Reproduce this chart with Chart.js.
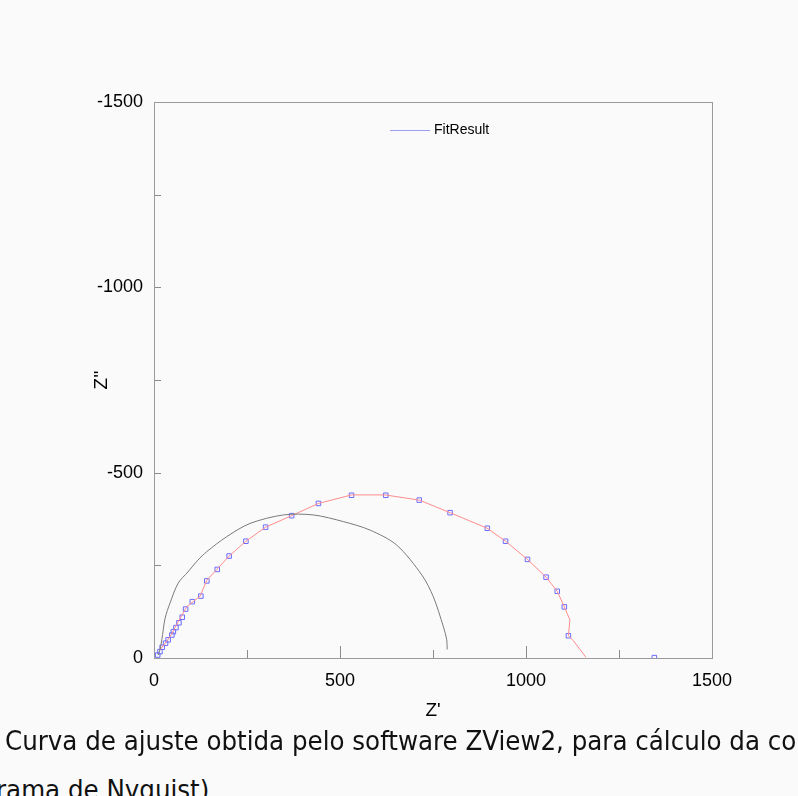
<!DOCTYPE html>
<html>
<head>
<meta charset="utf-8">
<script src="https://cdn.jsdelivr.net/npm/chart.js@4.4.1/dist/chart.umd.min.js"></script>
<style>
	html, body { margin: 0; padding: 0; background: #fafafa; overflow: hidden; }
	body { width: 798px; height: 796px; position: relative; }
	#wrap { position: absolute; left: 0; top: 0; width: 798px; height: 730px; }
	.caption {
		position: absolute;
		left: 5px;
		white-space: nowrap;
		font-family: "DejaVu Sans Condensed", "DejaVu Sans", sans-serif;
		font-size: 27.3px;
		color: #111;
	}
</style>
</head>
<body>
<div id="wrap"><canvas id="chart"></canvas></div>
<div class="caption" style="top:725px;">Curva de ajuste obtida pelo software ZView2, para cálculo da co</div>
<div class="caption" style="top:774px; left:-4px;">rama de Nyquist)</div>
<script>
// Z' / Z'' (ohm)
const measX = [10, 16, 22, 31, 38, 48, 52, 59, 67, 76, 85, 103, 126, 142, 170, 202, 247, 300, 370, 442, 531, 623, 713, 796, 896, 945, 1004, 1054, 1084, 1103, 1114, 1345];
const measY = [-8, -17, -29, -40, -49, -62, -71, -82, -95, -110, -132, -152, -167, -208, -239, -275, -315, -353, -384, -417, -439, -439, -426, -392, -350, -315, -266, -218, -180, -138, -60, -1];

const fitX = [16, 43, 70, 88, 124, 142, 169, 202, 247, 300, 370, 442, 531, 621, 713, 796, 896, 945, 1004, 1054, 1084, 1103, 1118, 1114, 1127, 1161];
const fitY = [-22, -57, -107, -138, -167, -210, -239, -275, -315, -353, -384, -417, -440, -440, -426, -392, -350, -315, -266, -218, -180, -138, -103, -60, -47, -2];

const otherX = [11, 16, 21, 30, 43, 65, 91, 118, 142, 195, 258, 348, 428, 509, 581, 652, 720, 751, 778, 787, 788];
const otherY = [-8, -22, -49, -108, -148, -202, -232, -264, -287, -327, -363, -386, -386, -368, -345, -305, -224, -165, -84, -49, -23];

const xTicks = [0, 500, 1000, 1500];
const yTicks = [-1500, -1000, -500, 0];
const minorStep = 250;
const legendText = "FitResult";

const toPoints = (xs, ys) => xs.map((x, i) => ({ x: x, y: ys[i] }));

// inward tick marks, the frame round the plot and the legend inside it
const framePlugin = {
	id: "frame",
	afterDraw(chart) {
		const ctx = chart.ctx;
		const a = chart.chartArea;
		const xs = chart.scales.x;
		const ys = chart.scales.y;
		ctx.save();
		ctx.strokeStyle = "#8c8c8c";
		ctx.lineWidth = 1;
		ctx.beginPath();
		for (let v = minorStep; v < 1500; v += minorStep) {
			const px = Math.round(xs.getPixelForValue(v)) + 0.5;
			const len = v % 500 === 0 ? 12 : 8;
			ctx.moveTo(px, a.bottom);
			ctx.lineTo(px, a.bottom - len);
		}
		for (let v = -minorStep; v > -1500; v -= minorStep) {
			const py = Math.round(ys.getPixelForValue(v)) + 0.5;
			ctx.moveTo(a.left, py);
			ctx.lineTo(a.left + 7, py);
		}
		ctx.stroke();
		ctx.strokeStyle = "#9a9a9a";
		ctx.strokeRect(Math.round(a.left) + 0.5, Math.round(a.top) + 0.5, Math.round(a.right - a.left), Math.round(a.bottom - a.top));

		// legend
		const ly = Math.round(a.top + 28) + 0.5;
		const lx = Math.round((a.left + a.right) / 2) - 43;
		ctx.strokeStyle = "#9c9cf0";
		ctx.beginPath();
		ctx.moveTo(lx, ly);
		ctx.lineTo(lx + 40, ly);
		ctx.stroke();
		ctx.fillStyle = "#000";
		ctx.font = "14px 'Liberation Sans'";
		ctx.textBaseline = "middle";
		ctx.textAlign = "left";
		ctx.fillText(legendText, lx + 44, ly);
		ctx.restore();
	},
};

const ctx = document.getElementById("chart").getContext("2d");

const config = {
	type: "scatter",
	data: {
		datasets: [
			{
				label: "other",
				data: toPoints(otherX, otherY),
				showLine: true,
				borderColor: "#7a7a7a",
				borderWidth: 1,
				pointRadius: 0,
				tension: 0.3,
			},
			{
				label: legendText,
				data: toPoints(fitX, fitY),
				showLine: true,
				borderColor: "#ff8c8c",
				borderWidth: 1,
				pointRadius: 0,
			},
			{
				label: "data",
				data: toPoints(measX, measY),
				showLine: false,
				pointStyle: "rect",
				pointRadius: 3.2,
				borderColor: "#6c6cff",
				borderWidth: 1,
				backgroundColor: "rgba(0,0,0,0)",
			},
		],
	},
	options: {
		responsive: true,
		maintainAspectRatio: false,
		animation: false,
		layout: { padding: { left: 80, right: 86, top: 102, bottom: 8 } },
		plugins: {
			legend: { display: false },
			tooltip: { enabled: false },
		},
		scales: {
			x: {
				type: "linear",
				min: 0,
				max: 1500,
				afterBuildTicks: (s) => { s.ticks = xTicks.map((v) => ({ value: v })); },
				afterFit: (s) => { s.height = 64; },
				grid: { display: false, drawTicks: false },
				border: { display: false },
				ticks: {
					padding: 12,
					color: "#000",
					font: { family: "Liberation Sans", size: 18 },
					callback: (v) => String(v),
				},
				title: {
					display: true,
					text: "Z'",
					color: "#000",
					font: { family: "Liberation Sans", size: 19 },
					padding: { top: 4, bottom: 0 },
				},
			},
			y: {
				type: "linear",
				reverse: true,
				min: -1500,
				max: 0,
				afterBuildTicks: (s) => { s.ticks = yTicks.map((v) => ({ value: v })); },
				afterFit: (s) => { s.width = 74; },
				grid: { display: false, drawTicks: false },
				border: { display: false },
				ticks: {
					padding: 11,
					color: "#000",
					font: { family: "Liberation Sans", size: 18 },
					callback: (v) => String(v),
				},
				title: {
					display: true,
					text: "Z''",
					color: "#000",
					font: { family: "Liberation Sans", size: 19 },
					padding: { top: 10, bottom: 0 },
				},
			},
		},
	},
	plugins: [framePlugin],
};

new Chart(ctx, config);
</script>
</body>
</html>
